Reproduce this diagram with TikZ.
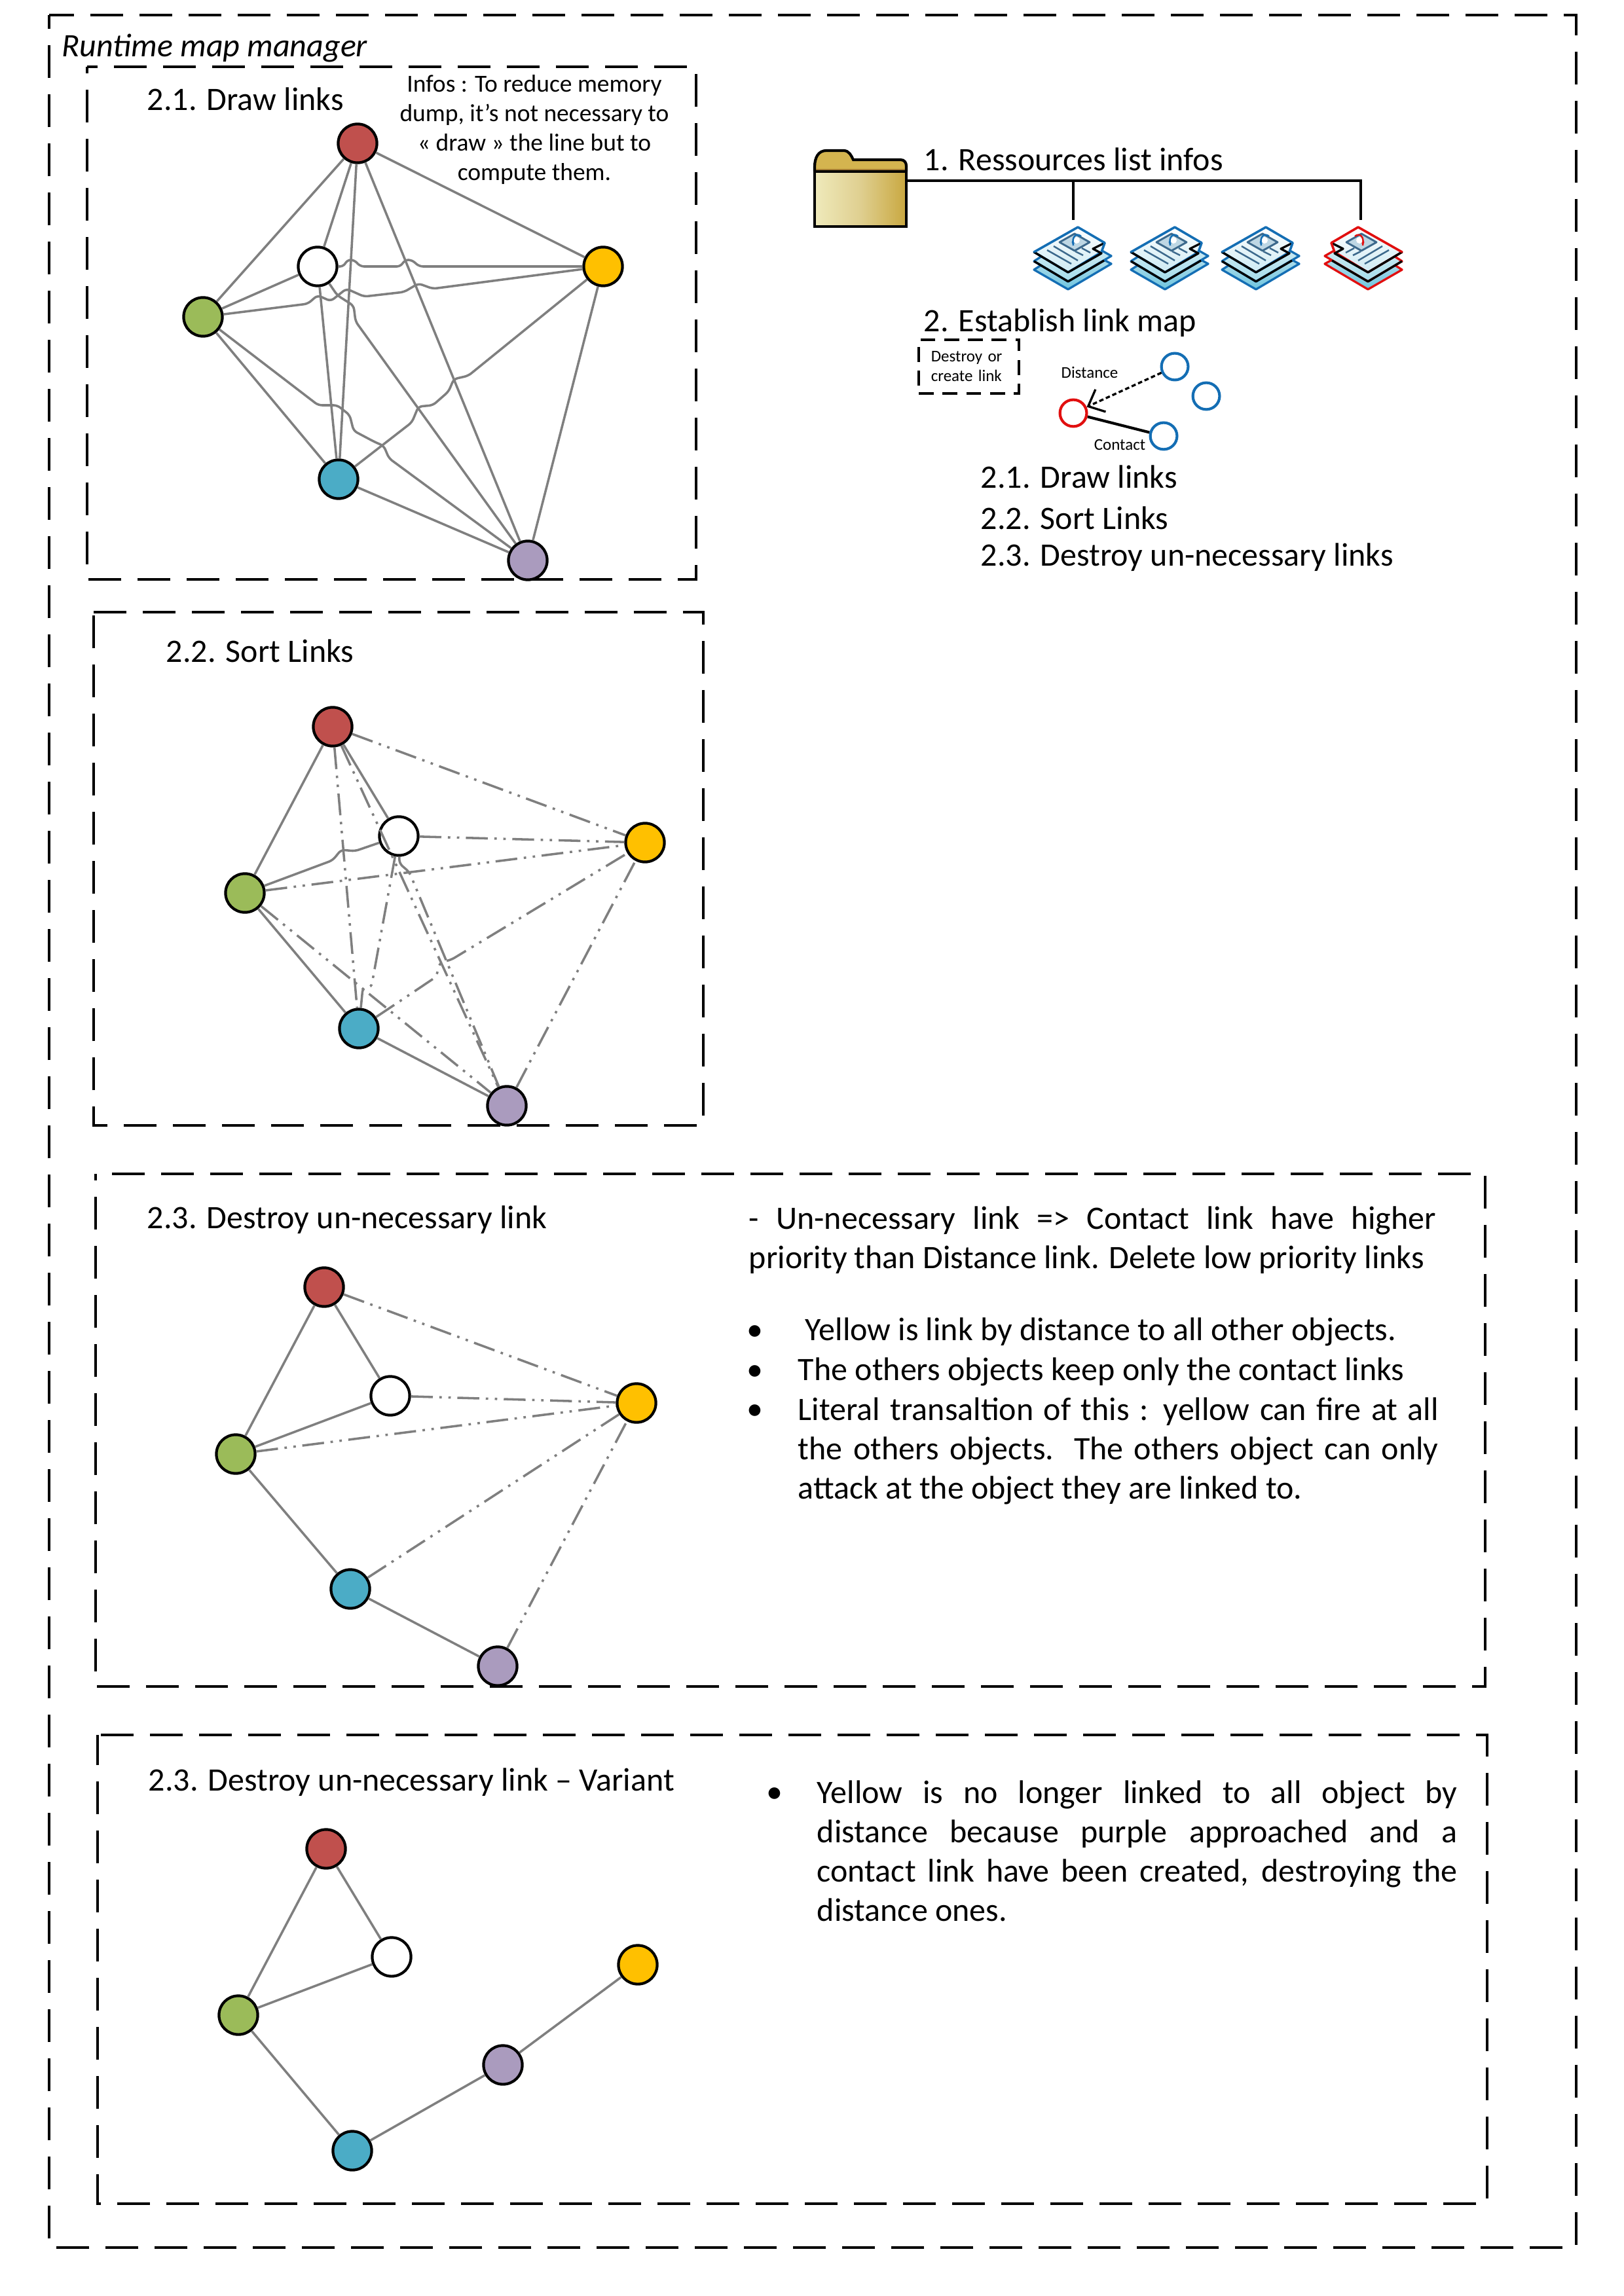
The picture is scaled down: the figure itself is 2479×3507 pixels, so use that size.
\documentclass[tikz,border=0pt]{standalone}
\usepackage{fontspec}
\setmainfont{Carlito}
\usetikzlibrary{arrows.meta,positioning}
\definecolor{orbr}{RGB}{192,80,77}
\definecolor{orbw}{RGB}{255,255,255}
\definecolor{orbg}{RGB}{155,187,89}
\definecolor{orby}{RGB}{255,192,0}
\definecolor{orbb}{RGB}{75,172,198}
\definecolor{orbp}{RGB}{170,155,190}
\definecolor{linkgray}{RGB}{127,127,127}
\definecolor{stackblue}{RGB}{20,110,180}
\definecolor{stackred}{RGB}{225,15,15}
\definecolor{inkslate}{RGB}{60,105,140}
\definecolor{sheetpale}{RGB}{205,234,243}
\definecolor{sheetmid}{RGB}{165,220,234}
\definecolor{sheetdeep}{RGB}{112,197,222}
\definecolor{photoblue}{RGB}{190,215,228}
\definecolor{foldertab}{RGB}{212,180,79}
\definecolor{folderband}{RGB}{165,125,50}
\definecolor{folderleft}{RGB}{239,234,187}
\definecolor{foldermid}{RGB}{223,207,144}
\definecolor{folderright}{RGB}{201,168,64}
% stack of sheets: top point, outline colour, mirror factor
\newcommand{\docstack}[3]{
  \begin{scope}[shift={(#1)},xscale=#3,line width=.8pt,line join=round]
    \draw[#2,top color=sheetpale,bottom color=sheetdeep]
      (-67,65) -- (-15,95) -- (51,56) -- (-5,25) -- cycle;
    \draw[#2,top color=sheetpale!70!white,bottom color=sheetmid]
      (-67,52) -- (-15,83) -- (51,44) -- (-5,12) -- cycle;
    \draw[black] (-67,52) -- (-15,83) -- (40,51);
    \draw[#2,top color=white,bottom color=sheetpale]
      (-67,38) -- (0,0) -- (41,24) -- (36,38) -- (-15,69) -- cycle;
    \draw[black] (-67,38) -- (-15,69) -- (36,40) -- (23,33) -- (41,24);
    \draw[#2] (-67,38) -- (0,0) -- (41,24) -- (36,38);
    \draw[inkslate,line width=.7pt,fill=photoblue]
      (-28,23) -- (-5,10) -- (18,23) -- (-5,36) -- cycle;
    \fill[#2!85] (-7,23) circle (2.5);
    \fill[white] (-2,20) circle (5);
    \draw[#2,line width=.6pt] (-7,28) .. controls (-10,14) and (-2,8) .. (5,14);
    \draw[inkslate,line width=.6pt] (-47,35) -- (-10,56) (-37,29) -- (0,51)
      (-4,37) -- (8,43) (6,32) -- (19,39);
  \end{scope}
}
\tikzset{
  link/.style={draw=linkgray, line width=.85pt},
  bumplink/.style={link, rounded corners=1.4pt},
  distlink/.style={draw=linkgray, line width=.85pt,
                   dash pattern=on 8pt off 2.4pt on .9pt off 2.4pt on .9pt off 2.4pt},
  panel/.style={draw=black, line width=1pt, dash pattern=on 12pt off 6pt},
  orb/.style={circle, draw=black, line width=1pt, minimum size=14.2pt, inner sep=0pt},
  miniorb/.style={circle, line width=1pt, fill=white, minimum size=9.8pt, inner sep=0pt},
  lbl/.style={anchor=base west, inner sep=0pt, font=\fontsize{12}{14.4}\selectfont},
  para/.style={anchor=north west, inner sep=0pt, align=justify,
               font=\fontsize{12}{14.4}\selectfont},
  tiny/.style={inner sep=0pt, font=\fontsize{6}{7.2}\selectfont}
}
\begin{document}
\begin{tikzpicture}[x=0.24pt,y=-0.24pt]
  \useasboundingbox (0,0) rectangle (2479,3507);
  % frames
  \draw[panel, dash phase=2.9pt] (75,23) -- (2407,23) -- (2407,3433) -- (75,3433) -- cycle;
  \draw[panel, dash phase=8.2pt] (133,102) -- (1063,102) -- (1063,885) -- (133,885) -- cycle;
  \draw[panel] (143,935) -- (1074,935) -- (1074,1719) -- (143,1719) -- cycle;
  \draw[panel, dash phase=12pt] (146,1793) -- (2268,1793) -- (2268,2576) -- (146,2576) -- cycle;
  \draw[panel, dash phase=16.8pt] (149,2650) -- (2271,2650) -- (2271,3366) -- (149,3366) -- cycle;
  \node[lbl, font=\fontsize{12}{14.4}\selectfont\itshape] (title) at (94,87) {Runtime map manager};

  % resources list
  \fill[foldertab] (1244,262) -- (1244,255) .. controls (1244,240) and (1250,230) .. (1262,230)
    -- (1288,230) .. controls (1297,230) and (1300,238) .. (1303,244) -- (1375,244)
    .. controls (1381,244) and (1384,248) .. (1384,254) -- (1384,262) -- cycle;
  \fill[folderband] (1244,258) rectangle (1384,262);
  \node[minimum width=33.6pt, minimum height=20.2pt, inner sep=0pt, draw=black, line width=1pt,
        left color=folderleft, right color=folderright, middle color=foldermid] (folder) at (1314,304) {};
  \draw[line width=1pt] (1244,262) -- (1244,255) .. controls (1244,240) and (1250,230) .. (1262,230)
    -- (1288,230) .. controls (1297,230) and (1300,238) .. (1303,244) -- (1375,244)
    .. controls (1381,244) and (1384,248) .. (1384,254) -- (1384,262);
  \node[lbl] (reslist) at (1410,261) {1. Ressources list infos};
  \coordinate (busend) at (2078,276);
  \coordinate (drop1) at (1639,336);
  \coordinate (drop4) at (2078,336);
  \draw[line width=.8pt] (folder.east |- busend) -- (busend) -- (drop4);
  \draw[line width=.8pt] (drop1 |- busend) -- (drop1);
  \docstack{1646,347}{stackblue}{1}
  \docstack{1794,347}{stackblue}{1}
  \docstack{1933,347}{stackblue}{1}
  \docstack{2074,347}{stackred}{-1}

  % link map legend
  \node[lbl] (linkmap) at (1410,507) {2. Establish link map};
  \node[draw=black, line width=.9pt, dash pattern=on 5.5pt off 3.2pt, text width=27.7pt,
        minimum height=19.7pt, inner xsep=4.5pt, inner ysep=0pt, align=left, font=\fontsize{6}{7.2}\selectfont]
    (linkbox) at (1479.5,560) {Destroy or\\create link};
  \node[miniorb, draw=stackred] (host) at (1639,631) {};
  \node[miniorb, draw=stackblue] (far1) at (1794,560) {};
  \node[miniorb, draw=stackblue] (far2) at (1842,605) {};
  \node[miniorb, draw=stackblue] (far3) at (1777,666) {};
  \draw[line width=.8pt, dash pattern=on 1.6pt off 1pt, -{Straight Barb[length=5pt,width=9pt]}] (far1) -- (host);
  \draw[line width=1pt] (host) -- (far3);
  \node[tiny] (distlbl) at (1664,569) {Distance};
  \node[tiny] (contlbl) at (1710,679) {Contact};
  \node[lbl] (step1) at (1497,746) {2.1. Draw links};
  \node[lbl] (step2) at (1497,809) {2.2. Sort Links};
  \node[lbl] (step3) at (1497,865) {2.3. Destroy un-necessary links};

  % 2.1 every link drawn
  \node[lbl] (drawt) at (224,169) {2.1. Draw links};
  \node[inner sep=0pt, align=center, font=\fontsize{9}{10.8}\selectfont] (infos) at (816,198)
    {Infos : To reduce memory\\dump, it’s not necessary to\\« draw » the line but to\\compute them.};
  \foreach \n/\x/\y in {r/546/219, w/485/407, g/310/484, y/921/407, b/517/732, p/806/856}{
    \node[orb, fill=orb\n] (a\n) at (\x,\y) {};
  }
  \foreach \u/\v in {r/g, r/w, r/b, r/p, r/y, w/g, g/b, b/p, p/y, w/b}{
    \draw[link] (a\u) -- (a\v);
  }
  \draw[bumplink] (aw) -- (525,407) -- (530,397) -- (541,397) -- (550,407) -- (612,407)
    -- (618,397) -- (629,397) -- (640,407) -- (ay);
  \draw[bumplink] (ag) -- (470,464) -- (485,451) -- (505,460) -- (529,441) -- (556,453)
    -- (617,446) -- (639,433) -- (661,441) -- (ay);
  \draw[bumplink] (aw) -- (515,451) -- (540,467) -- (543,491) -- (ap);
  \draw[bumplink] (ag) -- (486,619) -- (515,619) -- (534,634) -- (540,658) -- (572,675)
    -- (586,681) -- (594,700) -- (ap);
  \draw[bumplink] (ab) -- (629,645) -- (639,621) -- (661,619) -- (685,598) -- (693,579)
    -- (715,574) -- (ay);

  % 2.2 sorted into contact and distance
  \node[lbl] (sortt) at (253,1012) {2.2. Sort Links};
  \foreach \n/\x/\y in {r/508/1110, w/609/1277, g/374/1364, y/985/1287, b/548/1571, p/774/1689}{
    \node[orb, fill=orb\n] (b\n) at (\x,\y) {};
  }
  \foreach \u/\v in {r/g, r/w, g/b, b/p}{
    \draw[link] (b\u) -- (b\v);
  }
  \foreach \u/\v in {r/y, w/y, g/y, r/p, r/b, g/p, p/y}{
    \draw[distlink] (b\u) -- (b\v);
  }
  \draw[bumplink] (bw) -- (542,1300) -- (521,1298) -- (508,1314) -- (bg);
  \draw[distlink, rounded corners=1.4pt] (bw) -- (567,1508) -- (554,1509) -- (bb);
  \draw[distlink, rounded corners=1.4pt] (bw) -- (610,1319) -- (625,1332) -- (bp);
  \draw[distlink, rounded corners=1.4pt] (bb) -- (608,1531) -- (666,1492) -- (672,1470)
    -- (689,1466) -- (by);

  % 2.3 low priority removed
  \node[lbl] (destroyt) at (224,1876) {2.3. Destroy un-necessary link};
  \foreach \n/\x/\y in {r/495/1966, w/596/2132, g/360/2221, y/972/2143, b/535/2427, p/760/2545}{
    \node[orb, fill=orb\n] (c\n) at (\x,\y) {};
  }
  \foreach \u/\v in {r/g, r/w, w/g, g/b, b/p}{
    \draw[link] (c\u) -- (c\v);
  }
  \foreach \u in {r, w, g, b, p}{
    \draw[distlink] (c\u) -- (cy);
  }
  \node[para, text width=251.8pt] (priority) at (1143,1842)
    {- Un-necessary link => Contact link have higher\linebreak priority than Distance link. Delete low priority links};
  \node[lbl] (bull1) at (1140,2047) {•};
  \node[lbl] (bull2) at (1140,2108) {•};
  \node[lbl] (bull3) at (1140,2168) {•};
  \node[lbl] (yellowtxt) at (1229,2047) {Yellow is link by distance to all other objects.};
  \node[lbl] (otherstxt) at (1218,2108) {The others objects keep only the contact links};
  \node[para, text width=234.7pt] (literal) at (1218,2134)
    {Literal transaltion of this : yellow can fire at all\linebreak the others objects. The others object can only\linebreak attack at the object they are linked to.};

  % 2.3 variant
  \node[lbl] (variantt) at (226,2735) {2.3. Destroy un-necessary link – Variant};
  \foreach \n/\x/\y in {r/498/2824, w/598/2989, g/364/3078, y/974/3001, b/538/3285, p/768/3154}{
    \node[orb, fill=orb\n] (d\n) at (\x,\y) {};
  }
  \foreach \u/\v in {r/g, r/w, w/g, g/b, b/p, p/y}{
    \draw[link] (d\u) -- (d\v);
  }
  \node[lbl] (bull4) at (1170,2753) {•};
  \node[para, text width=234.7pt] (approach) at (1247,2719)
    {Yellow is no longer linked to all object by\linebreak distance because purple approached and a\linebreak contact link have been created, destroying the\linebreak distance ones.};
\end{tikzpicture}
\end{document}
